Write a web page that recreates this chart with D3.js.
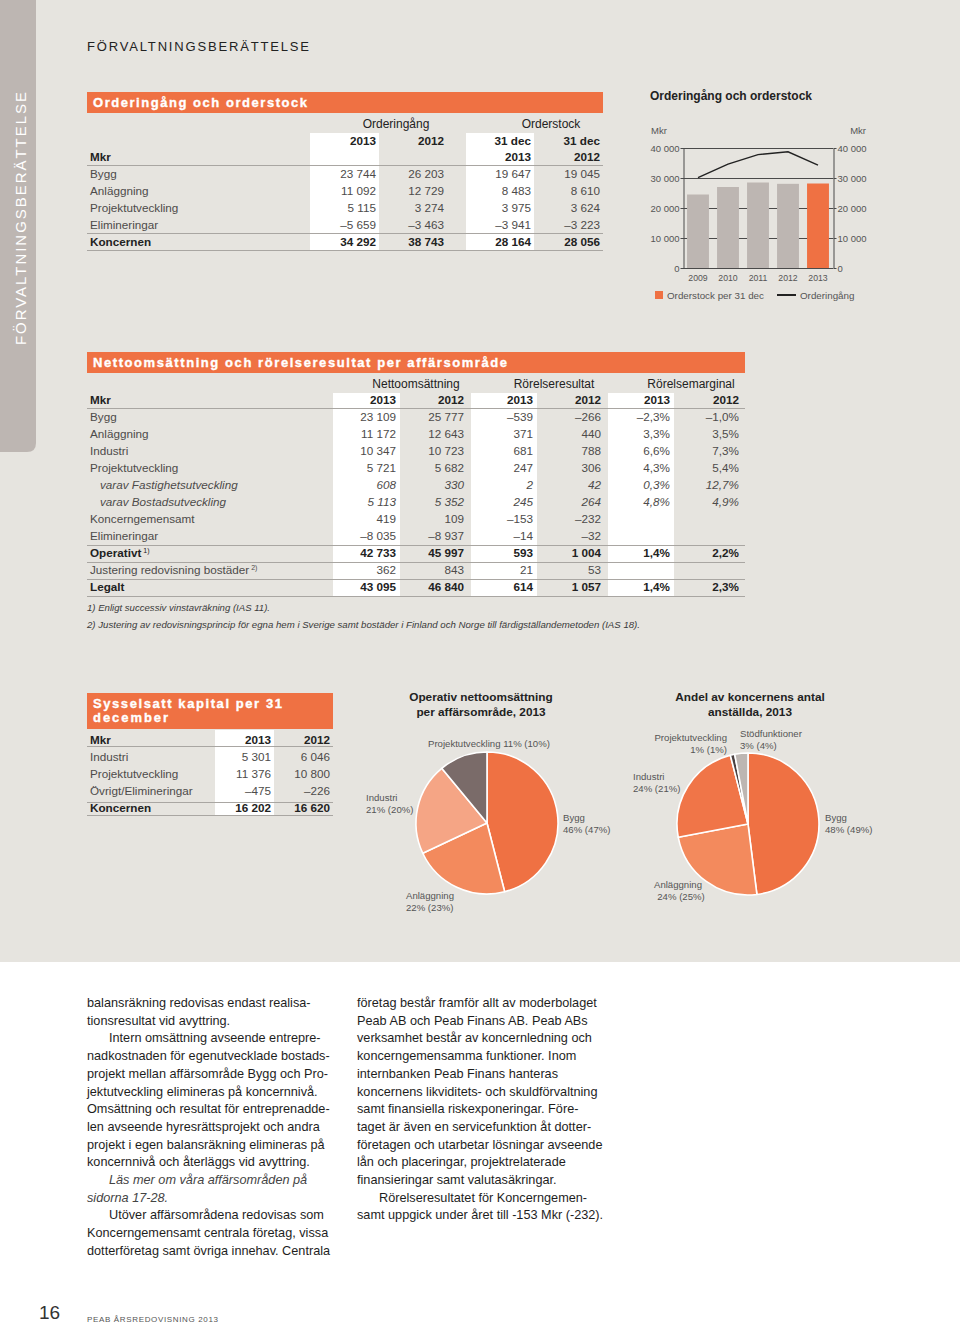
<!DOCTYPE html>
<html><head><meta charset="utf-8">
<script src="https://cdn.jsdelivr.net/npm/d3@7"></script>
<style>
body{margin:0;background:#fff;}
svg{display:block;font-family:"Liberation Sans",Arial,Helvetica,sans-serif;}
</style></head><body>
<svg id="page" width="960" height="1325"></svg>
<script>
// ---------------- DATA ----------------
// Bar/line chart: Orderingång och orderstock
const barYears = ["2009","2010","2011","2012","2013"];
const orderstock = [24500, 27000, 28500, 28056, 28164];
const orderingang = [30100, 34600, 37800, 38743, 34292];
const barTicks = [0, 10000, 20000, 30000, 40000];

// Table 1: Orderingång och orderstock
const t1Labels = ["Bygg","Anläggning","Projektutveckling","Elimineringar","Koncernen"];
const t1OrderIn2013 = [23744, 11092, 5115, -5659, 34292];
const t1OrderIn2012 = [26203, 12729, 3274, -3463, 38743];
const t1Stock2013 = [19647, 8483, 3975, -3941, 28164];
const t1Stock2012 = [19045, 8610, 3624, -3223, 28056];

// Table 2: Nettoomsättning och rörelseresultat per affärsområde
const t2Labels = ["Bygg","Anläggning","Industri","Projektutveckling","varav Fastighetsutveckling","varav Bostadsutveckling","Koncerngemensamt","Elimineringar","Operativt","Justering redovisning bostäder","Legalt"];
const t2Sup = [null,null,null,null,null,null,null,null,"1)","2)",null];
const t2Net2013 = [23109, 11172, 10347, 5721, 608, 5113, 419, -8035, 42733, 362, 43095];
const t2Net2012 = [25777, 12643, 10723, 5682, 330, 5352, 109, -8937, 45997, 843, 46840];
const t2Res2013 = [-539, 371, 681, 247, 2, 245, -153, -14, 593, 21, 614];
const t2Res2012 = [-266, 440, 788, 306, 42, 264, -232, -32, 1004, 53, 1057];
const t2Mar2013 = [-2.3, 3.3, 6.6, 4.3, 0.3, 4.8, null, null, 1.4, null, 1.4];
const t2Mar2012 = [-1.0, 3.5, 7.3, 5.4, 12.7, 4.9, null, null, 2.2, null, 2.3];
const t2Footnotes = ["1) Enligt successiv vinstavräkning (IAS 11).",
  "2) Justering av redovisningsprincip för egna hem i Sverige samt bostäder i Finland och Norge till färdigställandemetoden (IAS 18)."];

// Table 3: Sysselsatt kapital per 31 december
const t3Labels = ["Industri","Projektutveckling","Övrigt/Elimineringar","Koncernen"];
const t3Cap2013 = [5301, 11376, -475, 16202];
const t3Cap2012 = [6046, 10800, -226, 16620];

// Pie 1: Operativ nettoomsättning per affärsområde, 2013
const pie1Labels = ["Bygg","Anläggning","Industri","Projektutveckling"];
const pie1Share = [46, 22, 21, 11];
const pie1Prev = [47, 23, 20, 10];

// Pie 2: Andel av koncernens antal anställda, 2013
const pie2Labels = ["Bygg","Anläggning","Industri","Projektutveckling","Stödfunktioner"];
const pie2Share = [48, 24, 24, 1, 3];
const pie2Prev = [49, 25, 21, 1, 4];

// Body text
const bodyCol1 = [
  ["balansräkning redovisas endast realisa-", 0, 0],
  ["tionsresultat vid avyttring.", 0, 0],
  ["Intern omsättning avseende entrepre-", 1, 0],
  ["nadkostnaden för egenutvecklade bostads-", 0, 0],
  ["projekt mellan affärsområde Bygg och Pro-", 0, 0],
  ["jektutveckling elimineras på koncernnivå.", 0, 0],
  ["Omsättning och resultat för entreprenadde-", 0, 0],
  ["len avseende hyresrättsprojekt och andra", 0, 0],
  ["projekt i egen balansräkning elimineras på", 0, 0],
  ["koncernnivå och återläggs vid avyttring.", 0, 0],
  ["Läs mer om våra affärsområden på", 1, 1],
  ["sidorna 17-28.", 0, 1],
  ["Utöver affärsområdena redovisas som", 1, 0],
  ["Koncerngemensamt centrala företag, vissa", 0, 0],
  ["dotterföretag samt övriga innehav. Centrala", 0, 0]
];
const bodyCol2 = [
  ["företag består framför allt av moderbolaget", 0, 0],
  ["Peab AB och Peab Finans AB. Peab ABs", 0, 0],
  ["verksamhet består av koncernledning och", 0, 0],
  ["koncerngemensamma funktioner. Inom", 0, 0],
  ["internbanken Peab Finans hanteras", 0, 0],
  ["koncernens likviditets- och skuldförvaltning", 0, 0],
  ["samt finansiella riskexponeringar. Före-", 0, 0],
  ["taget är även en servicefunktion åt dotter-", 0, 0],
  ["företagen och utarbetar lösningar avseende", 0, 0],
  ["lån och placeringar, projektrelaterade", 0, 0],
  ["finansieringar samt valutasäkringar.", 0, 0],
  ["Rörelseresultatet för Koncerngemen-", 1, 0],
  ["samt uppgick under året till -153 Mkr (-232).", 0, 0]
];

// ---------------- STYLE / LAYOUT ----------------
const ORANGE = "#ef7143";
const BG = "#e6e4df";
const DARK = "#222";
const GREY_TXT = "#4d4b4a";
const RULE = "#a9a6a2";

const loc = d3.formatLocale({decimal: ",", thousands: " ", grouping: [3], currency: ["", ""], minus: "–"});
const fmtInt = v => v == null ? "" : loc.format(",d")(v);
const fmtPct = v => v == null ? "" : loc.format(".1f")(v) + "%";

const svg = d3.select("#page");

// backgrounds
svg.append("rect").attr("width", 960).attr("height", 962).attr("fill", BG);
svg.append("rect").attr("y", 962).attr("width", 960).attr("height", 363).attr("fill", "#fff");
svg.append("path").attr("d", "M0,0H36V443Q36,452 27,452H0Z").attr("fill", "#bdb6b2");
svg.append("text").attr("transform", "translate(26,345) rotate(-90)")
  .attr("font-size", 15).attr("fill", "#fff").attr("textLength", 253).attr("lengthAdjust", "spacing")
  .text("FÖRVALTNINGSBERÄTTELSE");
svg.append("text").attr("x", 87).attr("y", 51).attr("font-size", 13).attr("fill", DARK)
  .attr("textLength", 222).attr("lengthAdjust", "spacing").text("FÖRVALTNINGSBERÄTTELSE");

// footer
svg.append("text").attr("x", 39).attr("y", 1319).attr("font-size", 19).attr("fill", "#333").text("16");
svg.append("text").attr("x", 87).attr("y", 1322).attr("font-size", 8).attr("fill", "#555")
  .attr("textLength", 131).attr("lengthAdjust", "spacing").text("PEAB ÅRSREDOVISNING 2013");

function titleBar(x, y, w, h, lines, lens) {
  svg.append("rect").attr("x", x).attr("y", y).attr("width", w).attr("height", h).attr("fill", ORANGE);
  lines.forEach((t, i) => {
    svg.append("text").attr("x", x + 6).attr("y", y + 15 + i * 14)
      .attr("font-size", 13).attr("font-weight", "bold").attr("fill", "#fff")
      .attr("stroke", "#fff").attr("stroke-width", 0.35)
      .attr("textLength", lens[i]).attr("lengthAdjust", "spacing").text(t);
  });
}

// Generic table
function drawTable(cfg) {
  const g = svg.append("g").attr("font-size", 11.7);
  cfg.bands.forEach(b => g.append("rect").attr("x", b[0]).attr("y", cfg.bandTop)
    .attr("width", b[1] - b[0]).attr("height", cfg.bandBottom - cfg.bandTop).attr("fill", "#fff"));
  cfg.rules.forEach(y => g.append("line").attr("x1", cfg.x0).attr("x2", cfg.x1)
    .attr("y1", y).attr("y2", y).attr("stroke", RULE).attr("stroke-width", 1));
  (cfg.groups || []).forEach(gr => g.append("text").attr("x", gr.x).attr("y", gr.y)
    .attr("text-anchor", "middle").attr("fill", DARK).attr("font-size", 12).text(gr.text));
  cfg.headers.forEach(h => {
    h.cells.forEach((c, i) => {
      if (!c) return;
      g.append("text").attr("x", i === 0 ? cfg.labelX : cfg.colRight[i - 1]).attr("y", h.y)
        .attr("text-anchor", i === 0 ? "start" : "end").attr("font-weight", "bold").attr("fill", DARK).text(c);
    });
  });
  const rowY = d3.scaleLinear().domain([0, 1]).range([cfg.rowY0, cfg.rowY0 + cfg.rowH]);
  cfg.labels.forEach((lab, r) => {
    const st = cfg.styles[r];
    const bold = st === "bold", ital = st === "italic";
    const y = rowY(r);
    const t = g.append("text").attr("x", cfg.labelX + (ital ? 10 : 0)).attr("y", y)
      .attr("fill", bold ? DARK : GREY_TXT).attr("font-weight", bold ? "bold" : null)
      .attr("font-style", ital ? "italic" : null).text(lab);
    if (cfg.sups && cfg.sups[r]) t.append("tspan").attr("dx", 2).attr("dy", -4).attr("font-size", 7).attr("font-weight", "normal").text(cfg.sups[r]);
    cfg.cols.forEach((col, c) => {
      g.append("text").attr("x", cfg.colRight[c]).attr("y", y).attr("text-anchor", "end")
        .attr("fill", bold ? DARK : GREY_TXT).attr("font-weight", bold ? "bold" : null)
        .attr("font-style", ital ? "italic" : null).text(cfg.fmts[c](col[r]));
    });
  });
}

// ---------- Table 1 ----------
titleBar(87, 92, 516, 21, ["Orderingång och orderstock"], [214]);
drawTable({
  x0: 87, x1: 603, labelX: 90, colRight: [376, 444, 531, 600],
  bands: [[310, 379], [466, 534]], bandTop: 133, bandBottom: 250,
  rules: [165.5, 233.5, 250.5],
  groups: [{text: "Orderingång", x: 396, y: 128}, {text: "Orderstock", x: 551, y: 128}],
  headers: [{y: 145, cells: ["", "2013", "2012", "31 dec", "31 dec"]}, {y: 161, cells: ["Mkr", "", "", "2013", "2012"]}],
  rowY0: 178, rowH: 17,
  labels: t1Labels, styles: ["", "", "", "", "bold"],
  cols: [t1OrderIn2013, t1OrderIn2012, t1Stock2013, t1Stock2012],
  fmts: [fmtInt, fmtInt, fmtInt, fmtInt]
});

// ---------- Table 2 ----------
titleBar(87, 352, 658, 21, ["Nettoomsättning och rörelseresultat per affärsområde"], [414]);
drawTable({
  x0: 87, x1: 745, labelX: 90, colRight: [396, 464, 533, 601, 670, 739],
  bands: [[333, 400], [471, 537], [608, 674]], bandTop: 393, bandBottom: 596,
  rules: [408.5, 545.5, 562.5, 579.5, 596.5],
  groups: [{text: "Nettoomsättning", x: 416, y: 388}, {text: "Rörelseresultat", x: 554, y: 388}, {text: "Rörelsemarginal", x: 691, y: 388}],
  headers: [{y: 404, cells: ["Mkr", "2013", "2012", "2013", "2012", "2013", "2012"]}],
  rowY0: 421, rowH: 17,
  labels: t2Labels, sups: t2Sup,
  styles: ["", "", "", "", "italic", "italic", "", "", "bold", "", "bold"],
  cols: [t2Net2013, t2Net2012, t2Res2013, t2Res2012, t2Mar2013, t2Mar2012],
  fmts: [fmtInt, fmtInt, fmtInt, fmtInt, fmtPct, fmtPct]
});
svg.selectAll(null).data(t2Footnotes).join("text")
  .attr("x", 87).attr("y", (d, i) => 611 + i * 17).attr("font-size", 9.3).attr("font-style", "italic")
  .attr("fill", "#3a3a3a").attr("textLength", (d, i) => [183, 553][i]).attr("lengthAdjust", "spacingAndGlyphs").text(d => d);

// ---------- Table 3 ----------
titleBar(87, 693, 246, 36, ["Sysselsatt kapital per 31", "december"], [189, 75]);
drawTable({
  x0: 87, x1: 333, labelX: 90, colRight: [271, 330],
  bands: [[215, 274]], bandTop: 730, bandBottom: 815,
  rules: [746.5, 802.5, 815.5],
  headers: [{y: 744, cells: ["Mkr", "2013", "2012"]}],
  rowY0: 761, rowH: 17,
  labels: t3Labels, styles: ["", "", "", "bold"],
  cols: [t3Cap2013, t3Cap2012], fmts: [fmtInt, fmtInt]
});

// ---------- Bar + line chart ----------
(function () {
  const g = svg.append("g");
  const y = d3.scaleLinear().domain([0, 40000]).range([268, 148]);
  const x = d3.scaleBand().domain(barYears).range([683, 833]).paddingInner(0.27).paddingOuter(0.135);
  const axFmt = v => loc.format(",d")(v);
  g.append("text").attr("x", 650).attr("y", 100).attr("font-size", 12).attr("font-weight", "bold")
    .attr("fill", DARK).attr("textLength", 162).attr("lengthAdjust", "spacing").text("Orderingång och orderstock");
  g.append("text").attr("x", 651).attr("y", 134).attr("font-size", 9.5).attr("fill", "#555").text("Mkr");
  g.append("text").attr("x", 866).attr("y", 134).attr("font-size", 9.5).attr("fill", "#555").attr("text-anchor", "end").text("Mkr");
  // grid
  g.selectAll(".grid").data(barTicks).join("line")
    .attr("x1", 683).attr("x2", 833).attr("y1", d => y(d) + 0.5).attr("y2", d => y(d) + 0.5)
    .attr("stroke", "#4a4a4a").attr("stroke-width", 1);
  // bars
  g.selectAll(".bar").data(barYears).join("rect")
    .attr("x", d => x(d)).attr("width", x.bandwidth())
    .attr("y", (d, i) => y(orderstock[i])).attr("height", (d, i) => y(0) - y(orderstock[i]))
    .attr("fill", (d, i) => i === barYears.length - 1 ? ORANGE : "#bdb6b2");
  // line
  const line = d3.line().x((d, i) => x(barYears[i]) + x.bandwidth() / 2).y(d => y(d));
  g.append("path").attr("d", line(orderingang)).attr("fill", "none").attr("stroke", "#222").attr("stroke-width", 1.4);
  // axes
  const left = g.append("g").attr("transform", "translate(683.5,0)")
    .call(d3.axisLeft(y).tickValues(barTicks).tickFormat(axFmt).tickSize(3).tickSizeOuter(0).tickPadding(1));
  const right = g.append("g").attr("transform", "translate(833.5,0)")
    .call(d3.axisRight(y).tickValues(barTicks).tickFormat(axFmt).tickSize(3).tickSizeOuter(0).tickPadding(1));
  [left, right].forEach(a => {
    a.selectAll("path,line").attr("stroke", "#4a4a4a");
    a.selectAll("text").attr("font-size", 9.5).attr("fill", "#555").attr("font-family", null);
  });
  const bottom = g.append("g").attr("transform", "translate(0,268)")
    .call(d3.axisBottom(x).tickSize(0).tickPadding(7));
  bottom.select(".domain").remove();
  bottom.selectAll("text").attr("font-size", 8.7).attr("fill", "#555").attr("font-family", null);
  // legend
  g.append("rect").attr("x", 655).attr("y", 291).attr("width", 8).attr("height", 8).attr("fill", ORANGE);
  g.append("text").attr("x", 667).attr("y", 298.5).attr("font-size", 9.8).attr("fill", "#555").text("Orderstock per 31 dec");
  g.append("line").attr("x1", 777).attr("x2", 796).attr("y1", 295).attr("y2", 295).attr("stroke", "#222").attr("stroke-width", 2);
  g.append("text").attr("x", 800).attr("y", 298.5).attr("font-size", 9.8).attr("fill", "#555").text("Orderingång");
})();

// ---------- Pies ----------
function drawPie(cfg) {
  const g = svg.append("g");
  cfg.title.forEach((t, i) => g.append("text").attr("x", cfg.titleX).attr("y", 701 + i * 15)
    .attr("text-anchor", "middle").attr("font-size", 11.8).attr("font-weight", "bold").attr("fill", DARK).text(t));
  const arcs = d3.pie().sort(null).value(d => d)(cfg.shares);
  const arc = d3.arc().innerRadius(0).outerRadius(cfg.r);
  g.append("g").attr("transform", `translate(${cfg.cx},${cfg.cy})`)
    .selectAll("path").data(arcs).join("path").attr("d", arc)
    .attr("fill", (d, i) => cfg.colors[i]).attr("stroke", "#fff").attr("stroke-width", 1.6).attr("stroke-linejoin", "round");
  cfg.labels.forEach((lab, i) => {
    const p = cfg.labelPos[i];
    const pct = `${cfg.shares[i]}% (${cfg.prev[i]}%)`;
    const lines = p.oneLine ? [lab + " " + pct] : [lab, pct];
    lines.forEach((t, k) => g.append("text").attr("x", p.x + (k && p.dx2 ? p.dx2 : 0)).attr("y", p.y + k * 11.5)
      .attr("text-anchor", p.anchor || "start").attr("font-size", 9.6).attr("fill", "#555").text(t));
  });
}
drawPie({
  title: ["Operativ nettoomsättning", "per affärsområde, 2013"], titleX: 481,
  cx: 487, cy: 823, r: 71,
  shares: pie1Share, prev: pie1Prev, labels: pie1Labels,
  colors: ["#ef7143", "#f38a5d", "#f5a585", "#7a6b69"],
  labelPos: [{x: 563, y: 821}, {x: 406, y: 899}, {x: 366, y: 801}, {x: 428, y: 747, oneLine: true}]
});
drawPie({
  title: ["Andel av koncernens antal", "anställda, 2013"], titleX: 750,
  cx: 748, cy: 824, r: 71,
  shares: pie2Share, prev: pie2Prev, labels: pie2Labels,
  colors: ["#ef7143", "#f38a5d", "#f07548", "#4b4141", "#bdb6b2"],
  labelPos: [{x: 825, y: 821}, {x: 678, y: 888, anchor: "middle", dx2: 3}, {x: 633, y: 780},
             {x: 727, y: 741, anchor: "end"}, {x: 740, y: 737}]
});

// ---------- Body text ----------
function bodyColumn(x, lines) {
  svg.append("g").selectAll("text").data(lines).join("text")
    .attr("x", d => x + (d[1] ? 22 : 0)).attr("y", (d, i) => 1007 + i * 17.7)
    .attr("font-size", 12.7)
    .attr("font-style", d => d[2] ? "italic" : null).attr("fill", d => d[2] ? "#444" : "#1e1e1e")
    .text(d => d[0]);
}
bodyColumn(87, bodyCol1);
bodyColumn(357, bodyCol2);
</script>
</body></html>
